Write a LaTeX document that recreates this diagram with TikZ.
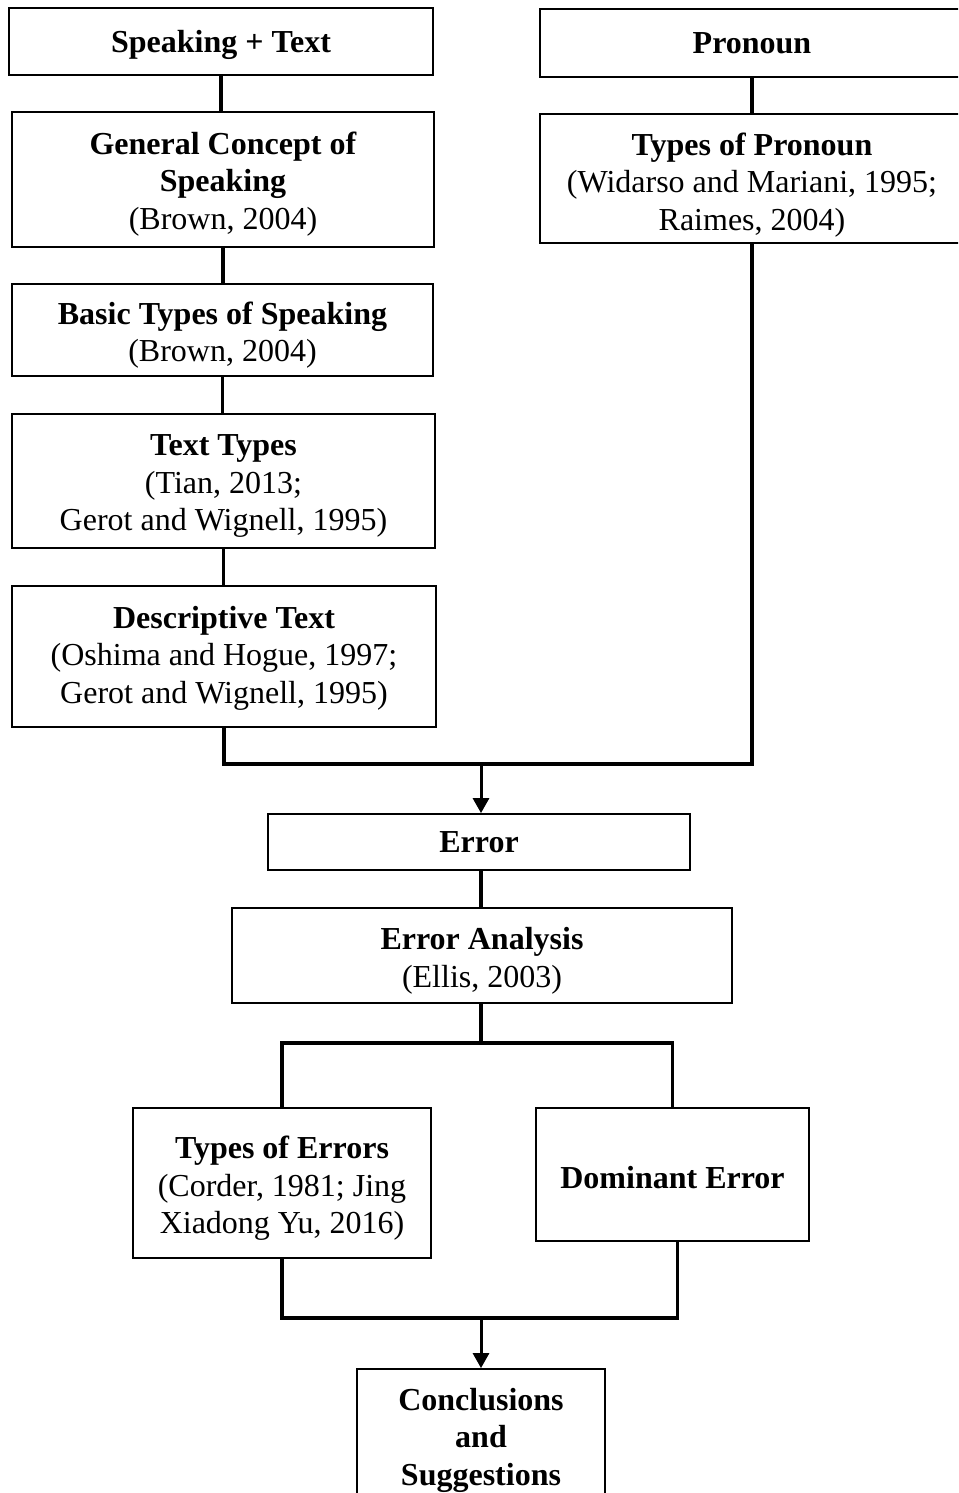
\documentclass[tikz,border=0pt]{standalone}
\usepackage{fontspec}
\setmainfont{Liberation Serif}
\usetikzlibrary{arrows.meta}
\newcommand{\lift}[1]{\rule{0pt}{#1pt}}
\tikzset{
  box/.style={draw, line width=1.8pt, align=center, inner sep=0pt, fill=white},
  conn/.style={line width=3.3pt},
  arr/.style={line width=3pt, -{Triangle[length=15pt,width=16pt]}}
}
\begin{document}
\begin{tikzpicture}[x=1pt, y=-1pt, font=\fontsize{32}{37.5}\selectfont]
\path[use as bounding box, clip] (0,0) rectangle (958,1493);
\fill[white] (0,0) rectangle (958,1493);

% left column
\node[box, minimum width=424pt, minimum height=67pt] (st) at (221,41.5) {\lift{29}\textbf{Speaking + Text}};
\node[box, minimum width=422pt, minimum height=135pt] (gc) at (223,179.5) {\lift{31}\textbf{General Concept of}\\\textbf{Speaking}\\(Brown, 2004)};
\node[box, minimum width=421pt, minimum height=92pt] (bt) at (222.5,330) {\lift{33}\textbf{Basic Types of Speaking}\\(Brown, 2004)};
\node[box, minimum width=423pt, minimum height=134pt] (tt) at (223.5,481) {\lift{31}\textbf{Text Types}\\(Tian, 2013;\\Gerot and Wignell, 1995)};
\node[box, minimum width=424pt, minimum height=141pt] (dt) at (224,656.5) {\lift{25}\textbf{Descriptive Text}\\(Oshima and Hogue, 1997;\\Gerot and Wignell, 1995)};

% right column
\node[box, minimum width=424pt, minimum height=68pt] (pr) at (752,43) {\textbf{Pronoun}};
\node[box, minimum width=424pt, minimum height=129pt] (tp) at (752,178.5) {\lift{35}\textbf{Types of Pronoun}\\(Widarso and Mariani, 1995;\\Raimes, 2004)};

% middle
\node[box, minimum width=422pt, minimum height=56pt] (er) at (479,842) {\textbf{Error}};
\node[box, minimum width=500pt, minimum height=95pt] (ea) at (482,955.5) {\lift{33}\textbf{Error Analysis}\\(Ellis, 2003)};
\node[box, minimum width=298pt, minimum height=150pt] (te) at (282,1183) {\lift{33}\textbf{Types of Errors}\\(Corder, 1981; Jing\\Xiadong Yu, 2016)};
\node[box, minimum width=273pt, minimum height=133pt] (de) at (672.5,1174.5) {\lift{29}\textbf{Dominant Error}};
\node[box, minimum width=248pt, minimum height=134pt] (cs) at (481,1436) {\lift{31}\textbf{Conclusions}\\\textbf{and}\\\textbf{Suggestions}};

\coordinate (j1) at (481,764);
\coordinate (j2) at (481,1043);
\coordinate (j3) at (481,1318);
\coordinate (db) at ([xshift=5pt]de.south);

% connectors left column
\draw[conn] (st.south) -- (st.south |- gc.north);
\draw[conn] (gc.south) -- (gc.south |- bt.north);
\draw[conn] (bt.south) -- (bt.south |- tt.north);
\draw[conn] (tt.south) -- (tt.south |- dt.north);
% right column
\draw[conn] (pr.south) -- (pr.south |- tp.north);
% merge into Error
\draw[conn] (dt.south) -- (dt.south |- j1) -- (tp.south |- j1) -- (tp.south);
\draw[arr] (j1) -- (j1 |- er.north);
\draw[conn] (er.south -| j1) -- (ea.north -| j1);
% branch
\draw[conn] (ea.south -| j2) -- (j2);
\draw[conn] (te.north) -- (te.north |- j2) -- (de.north |- j2) -- (de.north);
% merge into conclusions
\draw[conn] (te.south) -- (te.south |- j3) -- (db |- j3) -- (db);
\draw[arr] (j3) -- (j3 |- cs.north);
\end{tikzpicture}
\end{document}
